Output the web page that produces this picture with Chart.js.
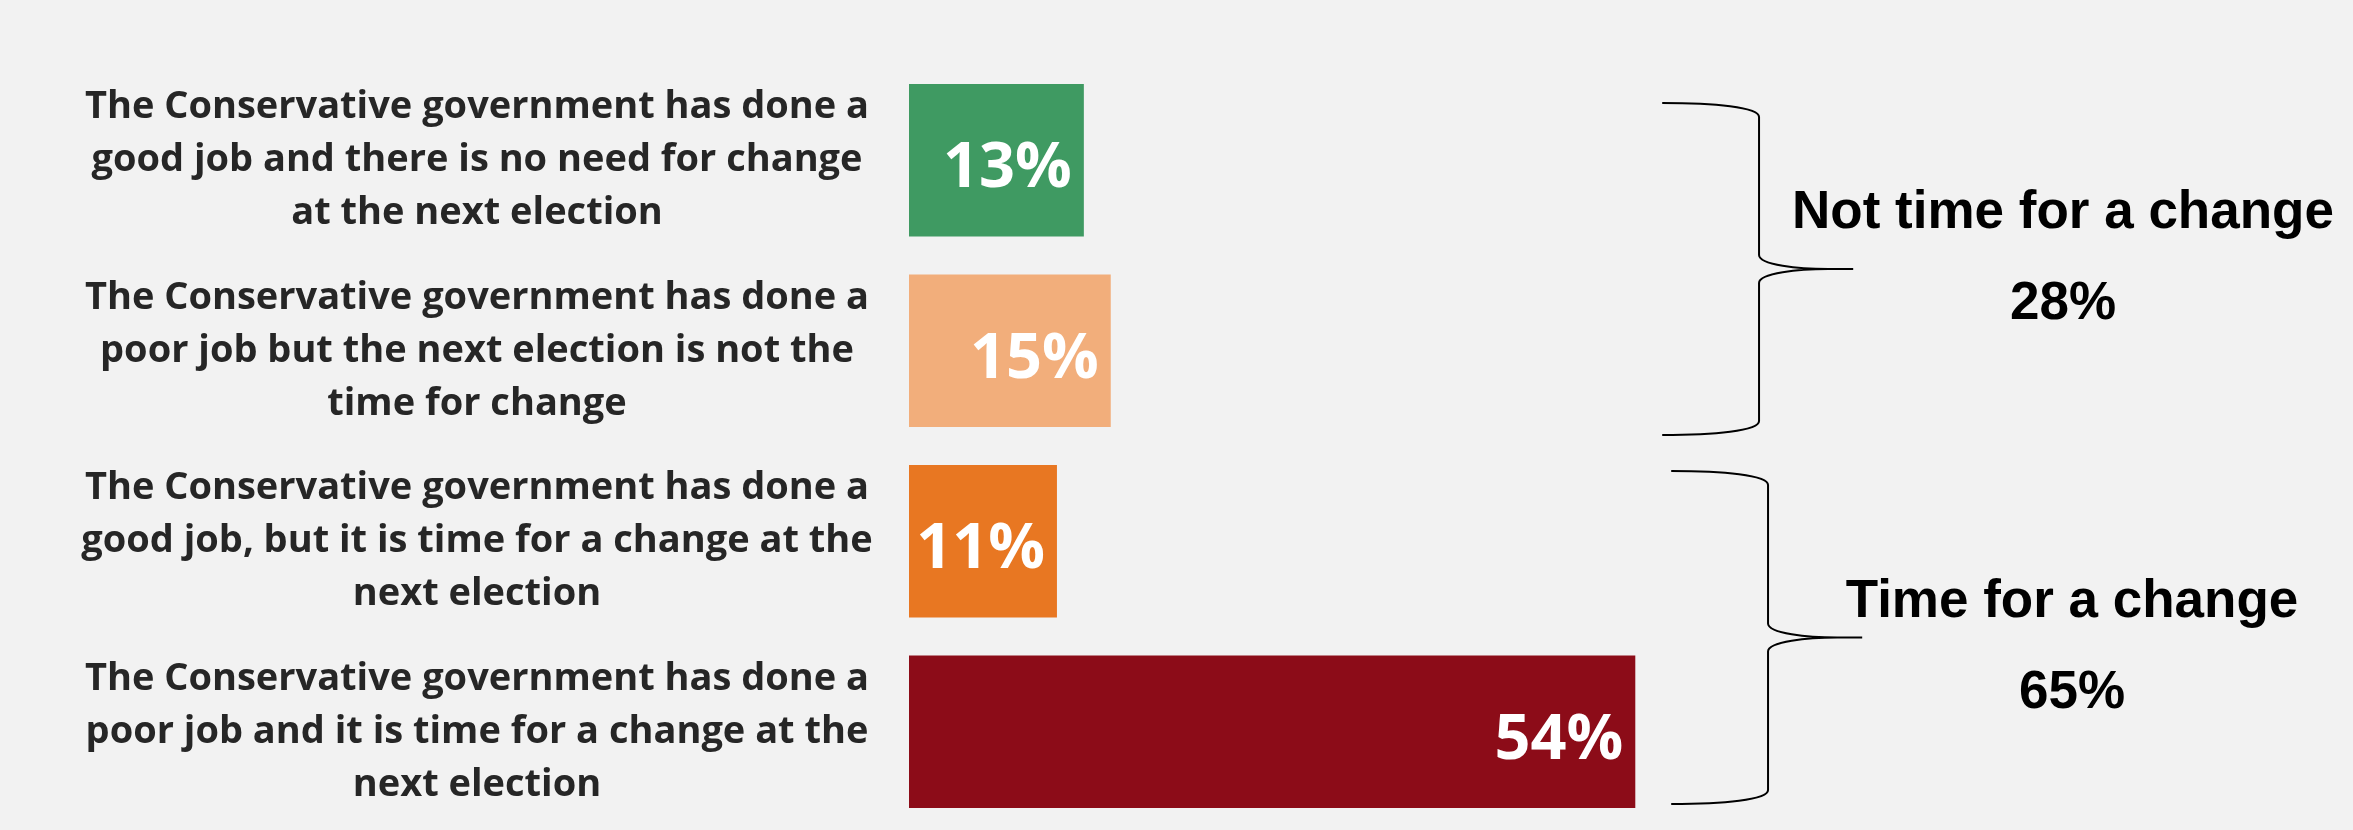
<!DOCTYPE html>
<html>
<head>
<meta charset="utf-8">
<script src="https://cdn.jsdelivr.net/npm/chart.js@4.4.1/dist/chart.umd.min.js"></script>
<style>
  html, body { margin: 0; padding: 0; background: #f2f2f2; }
  canvas { display: block; }
</style>
</head>
<body>
<canvas id="cambio" width="2353" height="830"></canvas>
<script>
// Categorías (partidas en líneas como en la diapositiva)
var categorias = [
    ["The Conservative government has done a", "good job and there is no need for change", "at the next election"],
    ["The Conservative government has done a", "poor job but the next election is not the", "time for change"],
    ["The Conservative government has done a", "good job, but it is time for a change at the", "next election"],
    ["The Conservative government has done a", "poor job and it is time for a change at the", "next election"]
];
var valores = [13, 15, 11, 54];
var colores = ['#3f9a62', '#f2ae7b', '#e87722', '#8c0c18'];

// Grupos de la derecha (llaves)
var grupos = ["Not time for a change", "Time for a change"];
var totalesGrupo = [28, 65];
var grupoDesde = [0, 2];
var grupoHasta = [1, 3];

// Padding de las etiquetas para centrarlas en la columna izquierda
var fuenteEtiqueta = 'bold 38px "Open Sans"';
var medidor = document.createElement('canvas').getContext('2d');
medidor.font = fuenteEtiqueta;
var anchoMax = 0;
categorias.forEach(function (lineas) {
    lineas.forEach(function (l) {
        anchoMax = Math.max(anchoMax, medidor.measureText(l).width);
    });
});
var anchoEje = 909;
var padEtiquetas = anchoEje - 477 - anchoMax / 2;

function llave(c, xl, xv, xt, arriba, abajo) {
    var medio = (arriba + abajo) / 2, r = 14;
    c.beginPath();
    c.moveTo(xl, arriba);
    c.bezierCurveTo(xv - 45, arriba, xv, arriba + 4, xv, arriba + r);
    c.lineTo(xv, medio - r);
    c.bezierCurveTo(xv, medio - 4, xv + 40, medio, xt - 25, medio);
    c.lineTo(xt, medio);
    c.moveTo(xt - 25, medio);
    c.bezierCurveTo(xv + 40, medio, xv, medio + 4, xv, medio + r);
    c.lineTo(xv, abajo - r);
    c.bezierCurveTo(xv, abajo - 4, xv - 45, abajo, xl, abajo);
    c.stroke();
}

// ajustes finos de cada llave (px)
var ajusteLlaves = [
    { arriba: 19, abajo: 8, dx: 0, textoDy: [-41, 50] },
    { arriba: 6, abajo: -4, dx: 9, textoDy: [-21, 70] }
];

var anotaciones = {
    id: 'anotaciones',
    beforeDraw: function (chart) {
        var c = chart.ctx;
        c.save();
        c.fillStyle = '#f2f2f2';
        c.fillRect(0, 0, chart.width, chart.height);
        c.restore();
    },
    afterDatasetsDraw: function (chart) {
        var c = chart.ctx;
        var barras = chart.getDatasetMeta(0).data;
        var x = chart.scales.x;
        c.save();
        // porcentajes dentro de las barras
        c.font = 'bold 63px "Open Sans"';
        c.fillStyle = '#ffffff';
        c.textAlign = 'right';
        c.textBaseline = 'alphabetic';
        barras.forEach(function (b, i) {
            c.fillText(valores[i] + '%', b.x - 12, b.y + 27);
        });
        // llaves y textos de grupo
        c.strokeStyle = '#000000';
        c.lineWidth = 2;
        c.fillStyle = '#000000';
        c.textAlign = 'center';
        c.font = 'bold 53px "Liberation Sans", Arial, sans-serif';
        grupos.forEach(function (g, k) {
            var a = barras[grupoDesde[k]], z = barras[grupoHasta[k]];
            var aj = ajusteLlaves[k];
            var arriba = a.y - a.height / 2 + aj.arriba;
            var abajo = z.y + z.height / 2 + aj.abajo;
            var medio = (arriba + abajo) / 2;
            llave(c, x.getPixelForValue(56) + aj.dx, x.getPixelForValue(63.2) + aj.dx,
                  x.getPixelForValue(70.2) + aj.dx, arriba, abajo);
            var tx = x.getPixelForValue(85.8) + aj.dx;
            c.fillText(g, tx, medio + aj.textoDy[0]);
            c.fillText(totalesGrupo[k] + '%', tx, medio + aj.textoDy[1]);
        });
        c.restore();
    }
};

var ctx = document.getElementById("cambio").getContext('2d');
var grafico = new Chart(ctx, {
    type: 'bar',
    data: {
        labels: categorias,
        datasets: [{
            data: valores,
            backgroundColor: colores,
            borderWidth: 0,
            barPercentage: 0.8,
            categoryPercentage: 1
        }]
    },
    options: {
        indexAxis: 'y',
        responsive: false,
        animation: false,
        devicePixelRatio: 1,
        layout: { padding: { left: 0, right: 99, top: 65, bottom: 3 } },
        plugins: { legend: { display: false }, tooltip: { enabled: false } },
        scales: {
            x: { display: false, min: 0, max: 100 },
            y: {
                grid: { display: false, drawTicks: false },
                border: { display: false },
                afterFit: function (escala) {
                    escala.width = anchoEje;
                    escala.paddingTop = 0;
                    escala.paddingBottom = 0;
                },
                ticks: {
                    autoSkip: false,
                    crossAlign: 'center',
                    padding: padEtiquetas,
                    color: '#262626',
                    font: { family: '"Open Sans"', size: 38, weight: 'bold', lineHeight: 1.395 }
                }
            }
        }
    },
    plugins: [anotaciones]
});
</script>
</body>
</html>
